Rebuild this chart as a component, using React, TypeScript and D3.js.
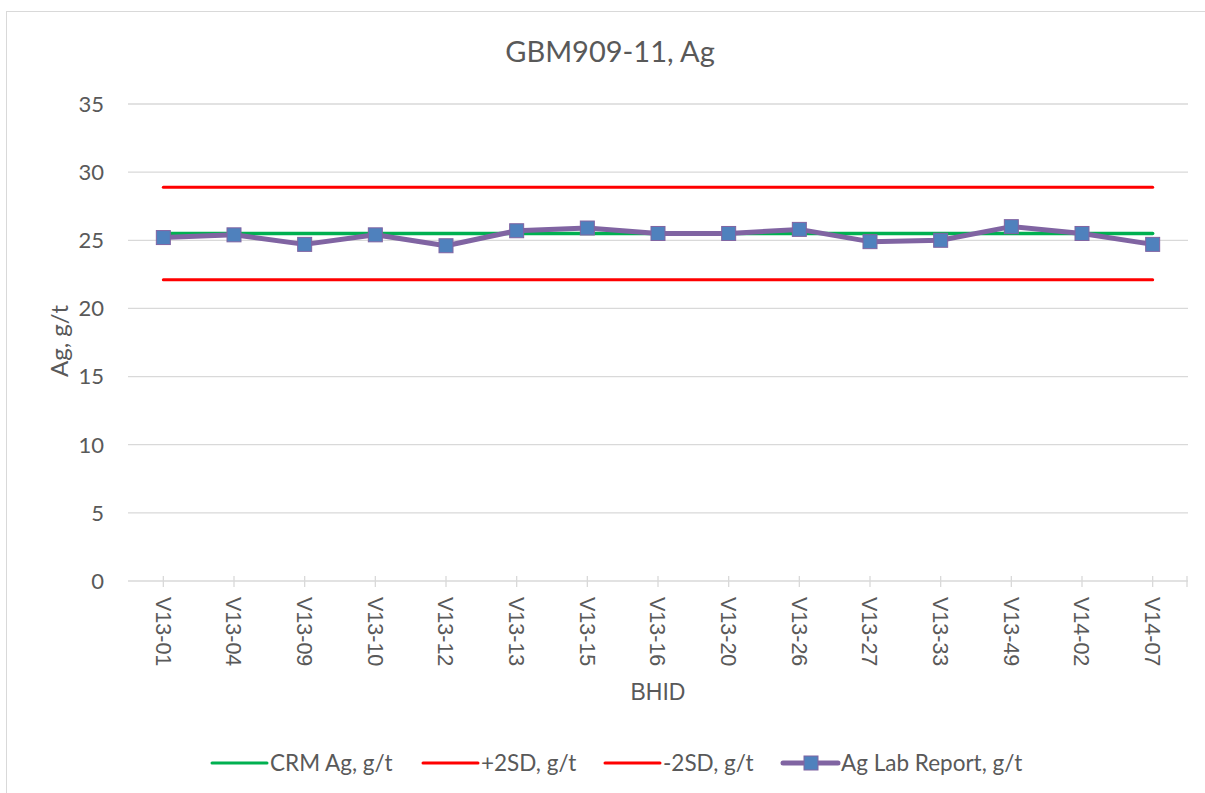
import * as d3 from 'd3';

const categories = ['V13-01', 'V13-04', 'V13-09', 'V13-10', 'V13-12', 'V13-13', 'V13-15', 'V13-16', 'V13-20', 'V13-26', 'V13-27', 'V13-33', 'V13-49', 'V14-02', 'V14-07'];
const labReport = [25.2, 25.4, 24.7, 25.4, 24.6, 25.7, 25.9, 25.5, 25.5, 25.8, 24.9, 25.0, 26.0, 25.5, 24.7];
const crmValue = 25.5;
const plus2SD = 28.9;
const minus2SD = 22.1;
const yTicks = [0, 5, 10, 15, 20, 25, 30, 35];
const legendLabels = ['CRM Ag, g/t', '+2SD, g/t', '-2SD, g/t', 'Ag Lab Report, g/t'];

const W = 1205;
const H = 793;
const left = 128;
const right = 1188;
const top = 104;
const bottom = 581;

const FONT = "Lato, 'Open Sans', sans-serif";
const ARIAL = "'Liberation Sans', Arial, sans-serif";
const TXT = '#595959';

const App = () => {
  const x = d3.scaleBand().domain(categories).range([left, right]);
  const y = d3.scaleLinear().domain([0, 35]).range([bottom, top]);
  const cx = (c: string) => (x(c) ?? 0) + x.bandwidth() / 2;

  const flat = (v: number) => d3.line<string>().x(cx).y(() => y(v))(categories) ?? '';
  const labLine = d3.line<number>().x((_, i) => cx(categories[i])).y(d => y(d))(labReport) ?? '';

  const legendStyle = [
    { color: '#00B050', x: 212, w: 3, marker: false },
    { color: '#FF0000', x: 423, w: 3, marker: false },
    { color: '#FF0000', x: 605, w: 3, marker: false },
    { color: '#8064A2', x: 783, w: 5, marker: true },
  ];

  return (
    <div style={{ position: 'absolute', left: 0, top: 0 }}>
      <svg width={W} height={H} style={{ display: 'block', background: '#fff' }}>
        <rect x={6.5} y={11.5} width={W + 10} height={H + 10} fill="#fff" stroke="#D9D9D9" />
        <text x={610} y={62} textAnchor="middle" fontFamily={FONT} fontSize={29} fill={TXT}>GBM909-11, Ag</text>

        {yTicks.map(t => (
          <g key={t}>
            <line x1={left} x2={right} y1={y(t)} y2={y(t)} stroke="#D9D9D9" strokeWidth={1.3} />
            <text x={104} y={y(t)} dy="0.36em" textAnchor="end" fontFamily={FONT} fontSize={22} fill={TXT}>{t}</text>
          </g>
        ))}

        {categories.map(c => (
          <g key={c}>
            <line x1={cx(c)} x2={cx(c)} y1={bottom - 5} y2={bottom + 6} stroke="#D9D9D9" strokeWidth={1.3} />
            <text transform={`translate(${cx(c)},${bottom + 16}) rotate(90)`} dy="0.36em" fontFamily={ARIAL} fontSize={21.5} fill={TXT}>{c}</text>
          </g>
        ))}
        <line x1={right - 1} x2={right - 1} y1={bottom - 5} y2={bottom + 6} stroke="#D9D9D9" strokeWidth={1.3} />

        <text transform={`translate(68,341) rotate(-90)`} textAnchor="middle" fontFamily={FONT} fontSize={24} fill={TXT}>Ag, g/t</text>
        <text x={658} y={700} textAnchor="middle" fontFamily={ARIAL} fontSize={23} fill={TXT}>BHID</text>

        <path d={flat(plus2SD)} fill="none" stroke="#FF0000" strokeWidth={3} strokeLinecap="round" />
        <path d={flat(minus2SD)} fill="none" stroke="#FF0000" strokeWidth={3} strokeLinecap="round" />
        <path d={flat(crmValue)} fill="none" stroke="#00B050" strokeWidth={3.5} strokeLinecap="round" />
        <path d={labLine} fill="none" stroke="#8064A2" strokeWidth={5} strokeLinejoin="round" strokeLinecap="round" />
        {labReport.map((v, i) => (
          <rect key={i} x={cx(categories[i]) - 7} y={y(v) - 7} width={14} height={14} fill="#4F81BD" stroke="#8064A2" strokeWidth={1} />
        ))}

        {legendLabels.map((label, i) => {
          const l = legendStyle[i];
          return (
            <g key={label}>
              <line x1={l.x} x2={l.x + 55} y1={763} y2={763} stroke={l.color} strokeWidth={l.w} strokeLinecap="round" />
              {l.marker && <rect x={l.x + 28 - 7} y={763 - 7} width={14} height={14} fill="#4F81BD" stroke="#8064A2" />}
              <text x={l.x + 58} y={771} fontFamily={FONT} fontSize={22.5} fill={TXT}>{label}</text>
            </g>
          );
        })}
      </svg>
    </div>
  );
};

export default App;
